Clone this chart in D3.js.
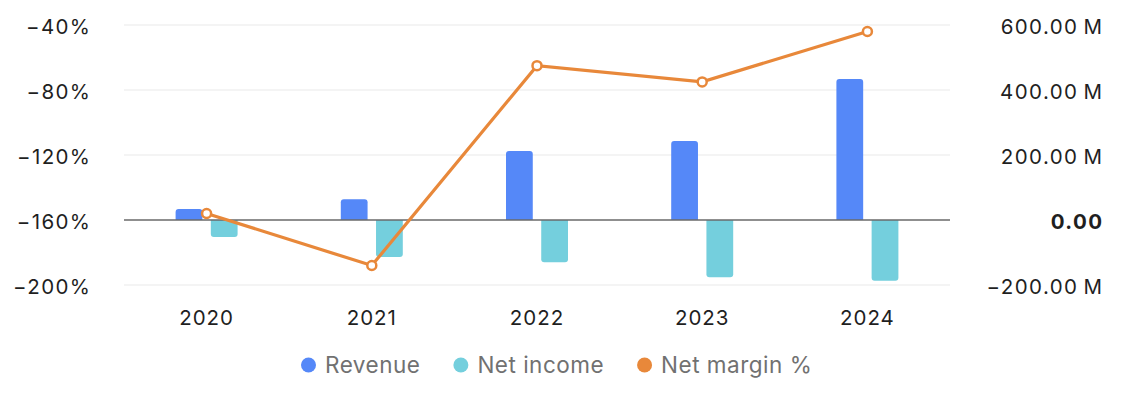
<!DOCTYPE html>
<html>
<head>
<meta charset="utf-8">
<script src="https://cdn.jsdelivr.net/npm/d3@7"></script>
<style>
  html, body { margin: 0; padding: 0; background: #fff; }
  svg { display: block; font-family: Inter, "Noto Sans", sans-serif; }
</style>
</head>
<body>
<svg id="chart" width="1146" height="398"></svg>
<script>
const years = ['2020', '2021', '2022', '2023', '2024'];
const revenue = [34, 64, 212, 243, 434];          // M
const netIncome = [-52, -114, -130, -176, -187];  // M
const netMargin = [-156, -188, -65, -75, -44];    // %
const marginTicks = [-200, -160, -120, -80, -40];
const moneyTicks = [-200, 0, 200, 400, 600];
const seriesNames = ['Revenue', 'Net income', 'Net margin %'];
const colors = ['#5588f8', '#74cfdd', '#e8883a'];

const svg = d3.select('#chart');
const plotLeft = 124, plotRight = 950, plotTop = 25, plotBottom = 285;
const axisFont = 20.5, axisSpacing = 1.4;

const x = d3.scaleBand().domain(years).range([plotLeft, plotRight]);
const xInner = d3.scaleBand().domain(['rev', 'ni']).range([-31, 31]).paddingInner(0.24);
const yL = d3.scaleLinear().domain([-200, -40]).range([plotBottom, plotTop]);
const yR = d3.scaleLinear().domain([-200, 600]).range([plotBottom, plotTop]);

// grid
svg.append('g').selectAll('line')
  .data(moneyTicks.filter(d => d !== 0))
  .join('line')
  .attr('x1', plotLeft).attr('x2', plotRight)
  .attr('y1', d => yR(d)).attr('y2', d => yR(d))
  .attr('stroke', '#f0f0f0').attr('stroke-width', 1.5);

// left axis
const axL = svg.append('g')
  .attr('transform', `translate(${plotLeft - 34 + axisSpacing},0)`)
  .call(d3.axisLeft(yL).tickValues(marginTicks).tickSize(0).tickPadding(0)
    .tickFormat(d => d3.format('d')(d).replace('-', '\u2212') + '%'));
axL.select('.domain').remove();
axL.selectAll('text').attr('font-size', axisFont).attr('fill', '#1f1f1f')
  .attr('letter-spacing', axisSpacing).attr('dy', '0.42em').attr('font-family', 'Inter');

// right axis
const axR = svg.append('g')
  .attr('transform', `translate(${1102 + axisSpacing},0)`)
  .call(d3.axisLeft(yR).tickValues(moneyTicks).tickSize(0).tickPadding(0)
    .tickFormat(d => d === 0 ? '0.00' : d3.format('.2f')(d).replace('-', '\u2212') + '\u2009M'));
axR.select('.domain').remove();
axR.selectAll('text').attr('font-size', axisFont).attr('fill', '#1f1f1f')
  .attr('letter-spacing', axisSpacing).attr('dy', '0.42em').attr('font-family', 'Inter')
  .attr('font-weight', d => d === 0 ? 700 : 400);

// x axis labels
const axX = svg.append('g')
  .attr('transform', `translate(0,${plotBottom + 25})`)
  .call(d3.axisBottom(x).tickSize(0).tickPadding(0));
axX.select('.domain').remove();
axX.selectAll('text').attr('font-size', axisFont).attr('fill', '#1f1f1f')
  .attr('letter-spacing', 1).attr('font-family', 'Inter');

// bars with rounded outer end
function barPath(x0, w, y0, y1, r) {
  const up = y1 < y0;
  const h = Math.abs(y1 - y0);
  r = Math.min(r, h, w / 2);
  if (up) {
    return `M${x0},${y0}V${y1 + r}Q${x0},${y1} ${x0 + r},${y1}H${x0 + w - r}Q${x0 + w},${y1} ${x0 + w},${y1 + r}V${y0}Z`;
  }
  return `M${x0},${y0}V${y1 - r}Q${x0},${y1} ${x0 + r},${y1}H${x0 + w - r}Q${x0 + w},${y1} ${x0 + w},${y1 - r}V${y0}Z`;
}

const bw = xInner.bandwidth();
svg.append('g').selectAll('path')
  .data(years.map((yr, i) => ({ yr, v: revenue[i] })))
  .join('path')
  .attr('fill', colors[0])
  .attr('d', d => barPath(x(d.yr) + x.bandwidth() / 2 + xInner('rev'), bw, yR(0), yR(d.v), 3));

svg.append('g').selectAll('path')
  .data(years.map((yr, i) => ({ yr, v: netIncome[i] })))
  .join('path')
  .attr('fill', colors[1])
  .attr('d', d => barPath(x(d.yr) + x.bandwidth() / 2 + xInner('ni'), bw, yR(0), yR(d.v), 3));

// zero line
svg.append('line')
  .attr('x1', plotLeft).attr('x2', plotRight)
  .attr('y1', yR(0)).attr('y2', yR(0))
  .attr('stroke', '#6a6a6a').attr('stroke-width', 1.5);

// margin line
const pts = years.map((yr, i) => [x(yr) + x.bandwidth() / 2, yL(netMargin[i])]);
svg.append('path')
  .attr('d', d3.line()(pts))
  .attr('fill', 'none').attr('stroke', colors[2]).attr('stroke-width', 3.2);
svg.append('g').selectAll('circle')
  .data(pts)
  .join('circle')
  .attr('cx', d => d[0]).attr('cy', d => d[1]).attr('r', 4.5)
  .attr('fill', '#fff').attr('stroke', colors[2]).attr('stroke-width', 2.5);

// legend
const lg = svg.append('g').attr('transform', 'translate(301,365)');
let cx = 0;
seriesNames.forEach((name, i) => {
  const it = lg.append('g').attr('transform', `translate(${cx},0)`);
  it.append('circle').attr('cx', 7.5).attr('cy', 0).attr('r', 7.5).attr('fill', colors[i]);
  const t = it.append('text').attr('x', 24).attr('dy', '0.36em')
    .attr('font-size', 22.5).attr('letter-spacing', 0.5).attr('fill', '#717171').text(name);
  cx += 24 + t.node().getComputedTextLength() + 33;
});
</script>
</body>
</html>
